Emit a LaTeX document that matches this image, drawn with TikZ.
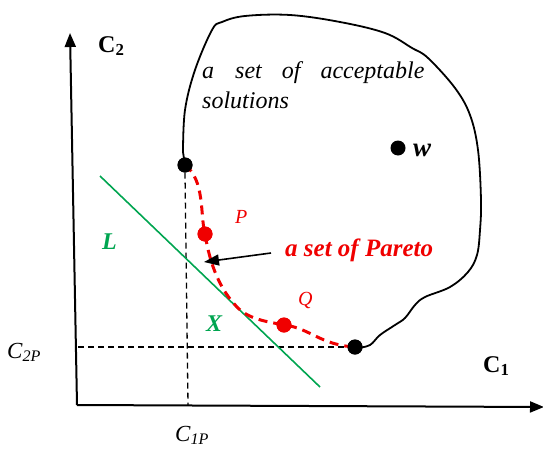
\documentclass[tikz,border=0pt]{standalone}
\usepackage{fontspec}
\setmainfont{Liberation Serif}
\usetikzlibrary{arrows.meta}
\definecolor{pgreen}{RGB}{0,165,80}
\definecolor{pred}{RGB}{240,0,0}
\tikzset{
  dot/.style={circle,fill=black,inner sep=0pt,minimum size=15pt},
  rdot/.style={circle,fill=pred,inner sep=0pt,minimum size=15pt},
  lbl/.style={inner sep=0pt,anchor=base west},
  axis/.style={line width=2pt,-{Triangle[length=14pt,width=11pt]}},
  guide/.style={line width=1.3pt,dash pattern=on 6pt off 4pt},
}
\begin{document}
\begin{tikzpicture}[x=1pt,y=-1pt]
\useasboundingbox (0,0) rectangle (543,450);
% axes
\coordinate (O) at (77,405);
\coordinate (Ytop) at (70,33);
\coordinate (Xend) at (544,407);
\draw[axis] (O) -- (Ytop);
\draw[axis] (O) -- (Xend);
\node[lbl,font=\bfseries\fontsize{24}{24}\selectfont] (c2) at (98,52) {C\textsubscript{2}};
\node[lbl,font=\bfseries\fontsize{24}{24}\selectfont] (c1) at (483,372) {C\textsubscript{1}};
% acceptable set boundary
\node[dot] (A) at (185,165) {};
\node[dot] (B) at (355,347) {};
\draw[line width=1.8pt] (A.center) -- (183,152)
  plot[smooth,tension=0.6] coordinates {(183,152) (185,110) (195,70) (212,30) (222,22) (245,16) (290,15) (340,22) (385,33) (412,48) (428,58) (455,88) (470,115) (478,150) (481,200) (480,230) (477,255) (468,272) (450,287) (425,297) (415,305) (405,318) (395,325) (380,335) (370,345) (358,348)};
\node[dot] (W) at (398,148) {};
\node[lbl,font=\bfseries\itshape\fontsize{27}{27}\selectfont] (wl) at (413,156) {w};
\node[lbl,font=\itshape\fontsize{24}{24}\selectfont] (t1) at (202,78) {a\hspace{21pt}set\hspace{20pt}of\hspace{20pt}acceptable};
\node[lbl,font=\itshape\fontsize{24}{24}\selectfont] (t2) at (202,108) {solutions};
% guide lines
\coordinate (C1Pb) at (188,405);
\coordinate (C2Pl) at (78,347);
\draw[guide] (A.south) -- (C1Pb);
\draw[guide] (C2Pl) -- (B.west);
% green line
\coordinate (G1) at (100,176);
\coordinate (G2) at (320,387);
\draw[pgreen,line width=1.6pt] (G1) -- (G2);
% Pareto set
\node[rdot] (P) at (205,234) {};
\node[rdot] (Q) at (284,325) {};
\draw[pred,line width=3pt,dash pattern=on 9pt off 6pt] (A.center) .. controls (205,180) and (200,215) .. (P.center)
  .. controls (210,265) and (220,290) .. (238,308)
  .. controls (250,320) and (270,322) .. (Q.center)
  .. controls (310,328) and (320,345) .. (B.center);
\node[dot] at (A) {};
\node[dot] at (B) {};
\node[rdot] at (P) {};
\node[rdot] at (Q) {};
\node[lbl,pred,font=\itshape\fontsize{20}{20}\selectfont] (pl) at (235,223) {P};
\node[lbl,pred,font=\itshape\fontsize{20}{20}\selectfont] (ql) at (298,305) {Q};
\node[lbl,pred,font=\bfseries\itshape\fontsize{25}{25}\selectfont] (pareto) at (285,256) {a set of Pareto};
\coordinate (arrS) at (271,253);
\coordinate (arrE) at (204,262);
\draw[line width=1.6pt,-{Triangle[length=15pt,width=11pt]}] (arrS) -- (arrE);
\node[lbl,pgreen,font=\bfseries\itshape\fontsize{24}{24}\selectfont] (L) at (102,249) {L};
\node[lbl,pgreen,font=\bfseries\itshape\fontsize{24}{24}\selectfont] (X) at (206,331) {X};
\node[lbl,font=\itshape\fontsize{23}{23}\selectfont] (c2p) at (7,358) {C\textsubscript{2P}};
\node[lbl,font=\itshape\fontsize{23}{23}\selectfont] (c1p) at (175,441) {C\textsubscript{1P}};
\end{tikzpicture}
\end{document}
